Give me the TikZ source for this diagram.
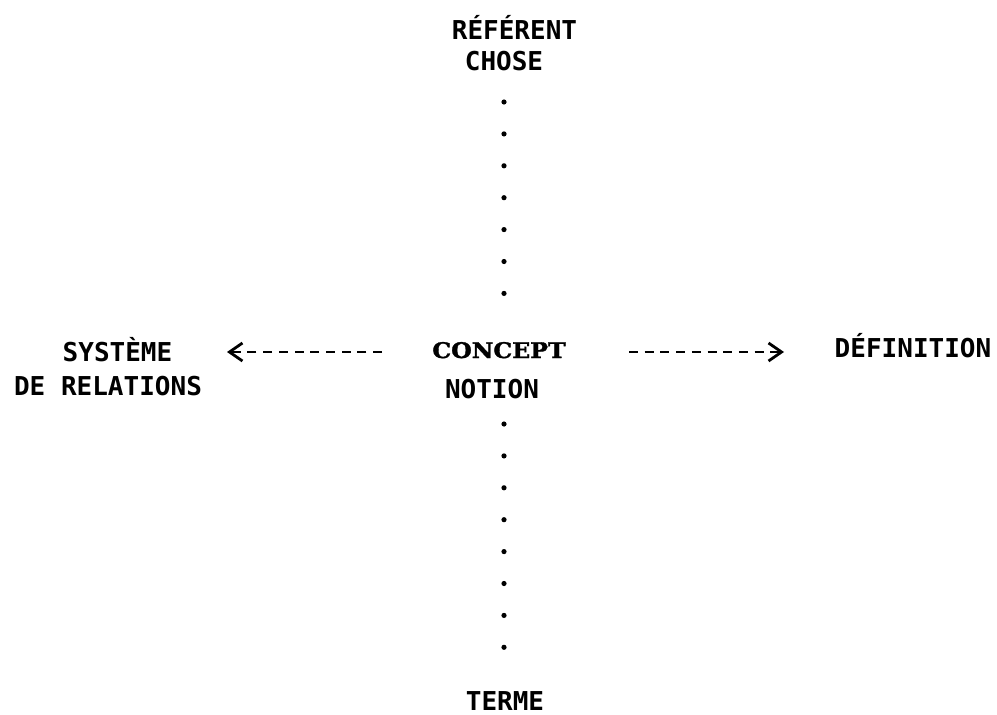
\documentclass[tikz,border=0pt]{standalone}
\usepackage{fontspec}
\newfontfamily\typefont{DejaVu Sans Mono}
\newfontfamily\keyfont{DejaVu Serif}[FakeStretch=1.1, FakeBold=1.6]
\usetikzlibrary{arrows.meta}

\begin{document}
\begin{tikzpicture}[x=1pt,y=-1pt,
  lbl/.style={font=\typefont\bfseries\fontsize{26}{30}\selectfont, inner sep=0pt, anchor=base},
  key/.style={font=\keyfont\bfseries\fontsize{21.5}{26}\selectfont, inner sep=0pt, anchor=base},
  dotline/.style={line width=5.2pt, line cap=round, dash pattern=on 0pt off 31.9pt},
  link/.style={line width=2.8pt, dash pattern=on 9pt off 6.7pt,
    -{Straight Barb[length=13pt,width=18pt,line width=2.8pt]}}]

  % page frame
  \path[use as bounding box] (0,0) rectangle (997,715);

  % labels
  \node[lbl] (referent)   at (514.5,39) {RÉFÉRENT};
  \node[lbl] (chose)      at (504,70)   {CHOSE};
  \node[lbl] (systeme)    at (117.5,361){SYSTÈME};
  \node[lbl] (relations)  at (108,395)  {DE RELATIONS};
  \node[key] (concept)    at (499,358)  {CONCEPT};
  \node[lbl] (notion)     at (492,398)  {NOTION};
  \node[lbl] (definition) at (913,357)  {DÉFINITION};
  \node[lbl] (terme)      at (505,710)  {TERME};

  % dotted vertical links
  \coordinate (up1) at (504,102);
  \coordinate (up2) at (504,295);
  \coordinate (lo1) at (504,424);
  \coordinate (lo2) at (504,650);
  \draw[dotline] (up1) -- (up2);
  \draw[dotline] (lo1) -- (lo2);

  % dashed horizontal arrows
  \coordinate (la) at (382,352);
  \coordinate (lb) at (227,352);
  \coordinate (ra) at (629,352);
  \coordinate (rb) at (784,352);
  \draw[link] (la) -- (lb);
  \draw[link] (ra) -- (rb);
\end{tikzpicture}
\end{document}
